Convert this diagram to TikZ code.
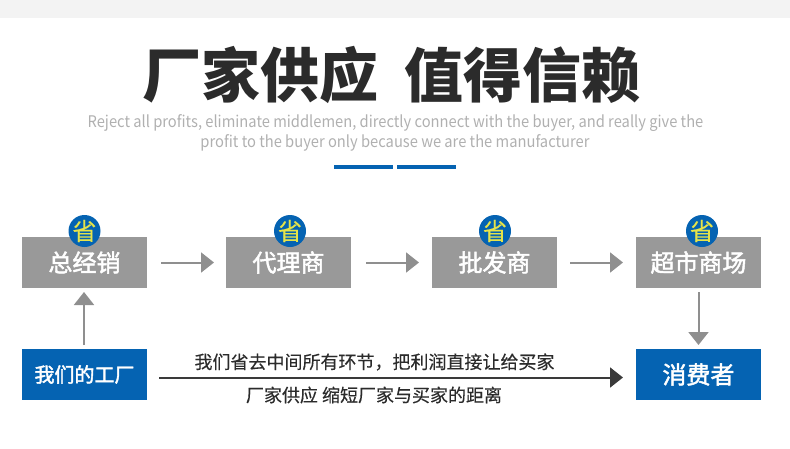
\documentclass[tikz,border=0pt]{standalone}
\usepackage{fontspec}
\setmainfont{Noto Sans CJK SC}
\newfontfamily\medfont[FakeBold=0.35]{Noto Sans CJK SC}
\newfontfamily\heavyfont[FakeBold=2]{Noto Sans CJK SC}
\newfontfamily\subfont[FakeStretch=0.92]{Noto Sans CJK SC}
\usetikzlibrary{arrows.meta}
\definecolor{boxgray}{HTML}{999999}
\definecolor{brandblue}{HTML}{0563B2}
\definecolor{arrowgray}{HTML}{8F8F8F}
\definecolor{darkline}{HTML}{3A3A3A}
\definecolor{titleink}{HTML}{2B2B2B}
\definecolor{subink}{HTML}{B0B0B0}
\definecolor{bandgray}{HTML}{F3F3F3}
\definecolor{saveyellow}{HTML}{E6E34A}
\tikzset{
  x=1pt,y=-1pt,
  base/.style={inner sep=0pt,outer sep=0pt,minimum width=125pt,minimum height=51pt,text=white},
  graybox/.style={base,fill=boxgray,font=\heavyfont\fontsize{24}{24}\selectfont},
  bluebox/.style={base,fill=brandblue},
  savebadge/.style={circle,fill=brandblue,minimum size=32pt,inner sep=-6pt,outer sep=0pt,text=saveyellow,font=\medfont\fontsize{24}{24}\selectfont},
  flowarrow/.style={draw=arrowgray,line width=2pt,-{Triangle[length=13pt,width=20pt]}},
  vertarrow/.style={draw=arrowgray,line width=2pt,-{Triangle[length=13pt,width=20pt]},shorten <=4pt,shorten >=4pt},
  longarrow/.style={draw=darkline,line width=2pt,-{Triangle[length=13pt,width=20pt]},shorten <=12pt,shorten >=13pt},
  midtext/.style={inner sep=0pt,text=titleink,font=\medfont\fontsize{18}{18}\selectfont},
  subtext/.style={inner sep=0pt,text=subink,font=\subfont\fontsize{16}{16}\selectfont},
  titletext/.style={inner sep=0pt,text=titleink,font=\fontsize{59}{59}\selectfont\bfseries}
}
\begin{document}
\begin{tikzpicture}
\useasboundingbox (0,0) rectangle (790,448);
\fill[bandgray] (0,0) rectangle (790,18);
\node[titletext] (t1) at (260,75) {厂家供应};
\node[titletext] (t2) at (522.5,75) {值得信赖};
\node[subtext] (s1) at (395.5,123) {Reject all profits, eliminate middlemen, directly connect with the buyer, and really give the};
\node[subtext] (s2) at (395,143) {profit to the buyer only because we are the manufacturer};
\fill[brandblue] (334,165) rectangle (393,169);
\fill[brandblue] (397,165) rectangle (456,169);
\node[graybox] (a) at (84.5,262.5) {总经销};
\node[graybox] (b) at (288.5,262.5) {代理商};
\node[graybox] (c) at (494.5,262.5) {批发商};
\node[graybox] (d) at (698.5,262.5) {超市商场};
\node[bluebox,font=\heavyfont\fontsize{20}{20}\selectfont] (f) at (84.5,374.5) {我们的工厂};
\node[bluebox,font=\heavyfont\fontsize{24}{24}\selectfont] (e) at (698.5,374.5) {消费者};
\node[savebadge] (sa) at (84.5,231) {省};
\node[savebadge] (sb) at (290,231) {省};
\node[savebadge] (sc) at (495,231) {省};
\node[savebadge] (sd) at (702,231) {省};
\draw[flowarrow,shorten <=14pt,shorten >=12pt] (a.east) -- (b.west);
\draw[flowarrow,shorten <=15pt,shorten >=13pt] (b.east) -- (c.west);
\draw[flowarrow,shorten <=13pt,shorten >=13pt] (c.east) -- (d.west);
\draw[vertarrow] ([xshift=-0.5pt]f.north) -- ([xshift=-0.5pt]a.south);
\draw[vertarrow] (d.south) -- (e.north);
\draw[longarrow] (f.east) ++(0,3) coordinate (ls) (e.west) ++(0,3) coordinate (le) (ls) -- (le);
\node[midtext] (m1) at (374.5,362) {我们省去中间所有环节，把利润直接让给买家};
\node[midtext] (m2) at (374,395) {厂家供应 缩短厂家与买家的距离};
\end{tikzpicture}
\end{document}
